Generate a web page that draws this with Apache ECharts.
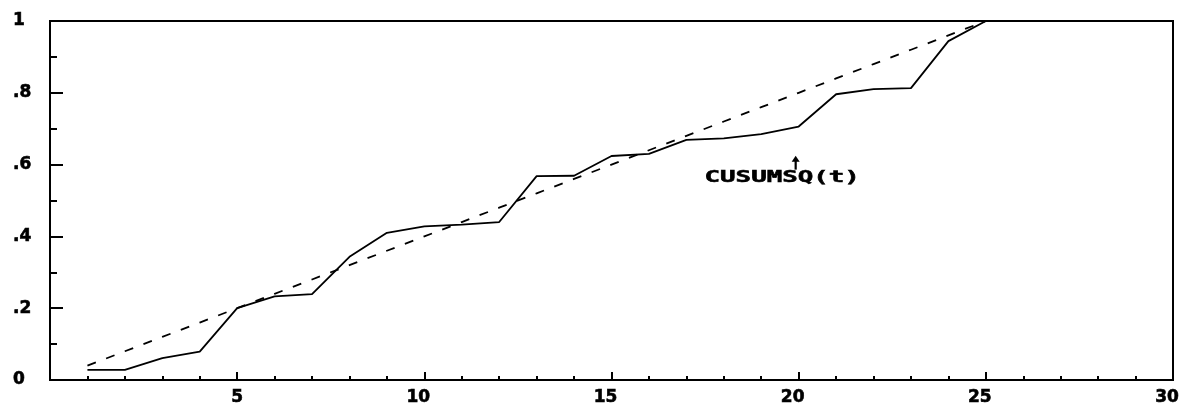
<!DOCTYPE html>
<html><head><meta charset="utf-8">
<script src="https://cdn.jsdelivr.net/npm/echarts@6/dist/echarts.min.js"></script>
<style>html,body{margin:0;padding:0;background:#fff}#c{width:1183px;height:408px}</style>
</head><body><div id="c"></div>
<script>
// ---- data ----
const tValues = [1,2,3,4,5,6,7,8,9,10,11,12,13,14,15,16,17,18,19,20,21,22,23,24,25];
const cusumsq = [0.028,0.028,0.061,0.079,0.200,0.233,0.239,0.343,0.410,0.428,0.433,0.440,0.568,0.569,0.624,0.630,0.669,0.673,0.685,0.706,0.796,0.810,0.813,0.944,1.000];
const expectedLine = [0.04,0.08,0.12,0.16,0.20,0.24,0.28,0.32,0.36,0.40,0.44,0.48,0.52,0.56,0.60,0.64,0.68,0.72,0.76,0.80,0.84,0.88,0.92,0.96,1.00];
const yTickLabels = ['0','.2','.4','.6','.8','1'];
const annotationText = 'CUSUMSQ(t)';
const annotationArrowTip = [19.92, 0.625];
const annotationTextCenter = [19.56, 0.5625];

const FONT = '"DejaVu Sans", sans-serif';
const MONO = '"DejaVu Sans Mono", monospace';
const chart = echarts.init(document.getElementById('c'), null, {renderer:'canvas'});
const toPairs = (xs, ys) => xs.map((x,i)=>[x, ys[i]]);
const labelFont = {color:'#000', fontFamily:FONT, fontWeight:'bold', fontSize:17, textBorderColor:'#000', textBorderWidth:0.6};

chart.setOption({
  animation:false,
  backgroundColor:'#fff',
  grid:{left:50, top:21, right:10, bottom:28, show:true, borderColor:'#000', borderWidth:2, backgroundColor:'transparent'},
  xAxis:{
    type:'value', min:0, max:30, interval:5,
    axisLine:{show:true, lineStyle:{color:'#000', width:2}},
    axisTick:{show:true, inside:true, length:8, lineStyle:{color:'#000', width:2}},
    minorTick:{show:true, splitNumber:5, length:4, lineStyle:{color:'#000', width:2}},
    splitLine:{show:false},
    axisLabel:Object.assign({margin:9,
      formatter:v=> v===0 ? '' : (String(v).length>1 ? '{two|'+v+'}' : String(v)),
      rich:{two:Object.assign({padding:[0,12,0,0]}, labelFont)}}, labelFont)
  },
  yAxis:{
    type:'value', min:0, max:1, interval:0.2,
    axisLine:{show:true, lineStyle:{color:'#000', width:2}},
    axisTick:{show:true, inside:true, length:13, lineStyle:{color:'#000', width:2}},
    minorTick:{show:true, splitNumber:2, length:7, lineStyle:{color:'#000', width:2}},
    splitLine:{show:false},
    axisLabel:Object.assign({margin:37, align:'left',
      formatter:v=> yTickLabels[Math.round(v/0.2)]}, labelFont)
  },
  series:[
    {type:'line', name:'CUSUMSQ', data:toPairs(tValues, cusumsq), symbol:'none',
      lineStyle:{color:'#000', width:1.8}},
    {type:'line', name:'Expected', data:toPairs(tValues, expectedLine), symbol:'none',
      lineStyle:{color:'#000', width:1.8, type:[9,11]}}
  ]
});

const tip = chart.convertToPixel({gridIndex:0}, annotationArrowTip);
const tc = chart.convertToPixel({gridIndex:0}, annotationTextCenter);
chart.setOption({
  graphic:[
    {type:'line', shape:{x1:tip[0], y1:tip[1]+4, x2:tip[0], y2:tip[1]+14}, style:{stroke:'#000', lineWidth:2.2}},
    {type:'polygon', shape:{points:[[tip[0]-4, tip[1]+6],[tip[0]+4, tip[1]+6],[tip[0], tip[1]]]}, style:{fill:'#000'}},
    {type:'text', x:tc[0], y:tc[1], scaleX:1.72,
      style:{text:annotationText, x:0, y:0, align:'center', verticalAlign:'middle',
        fontFamily:MONO, fontWeight:'bold', fontSize:15, fill:'#000', stroke:'#000', lineWidth:0.5}}
  ]
});
</script></body></html>
